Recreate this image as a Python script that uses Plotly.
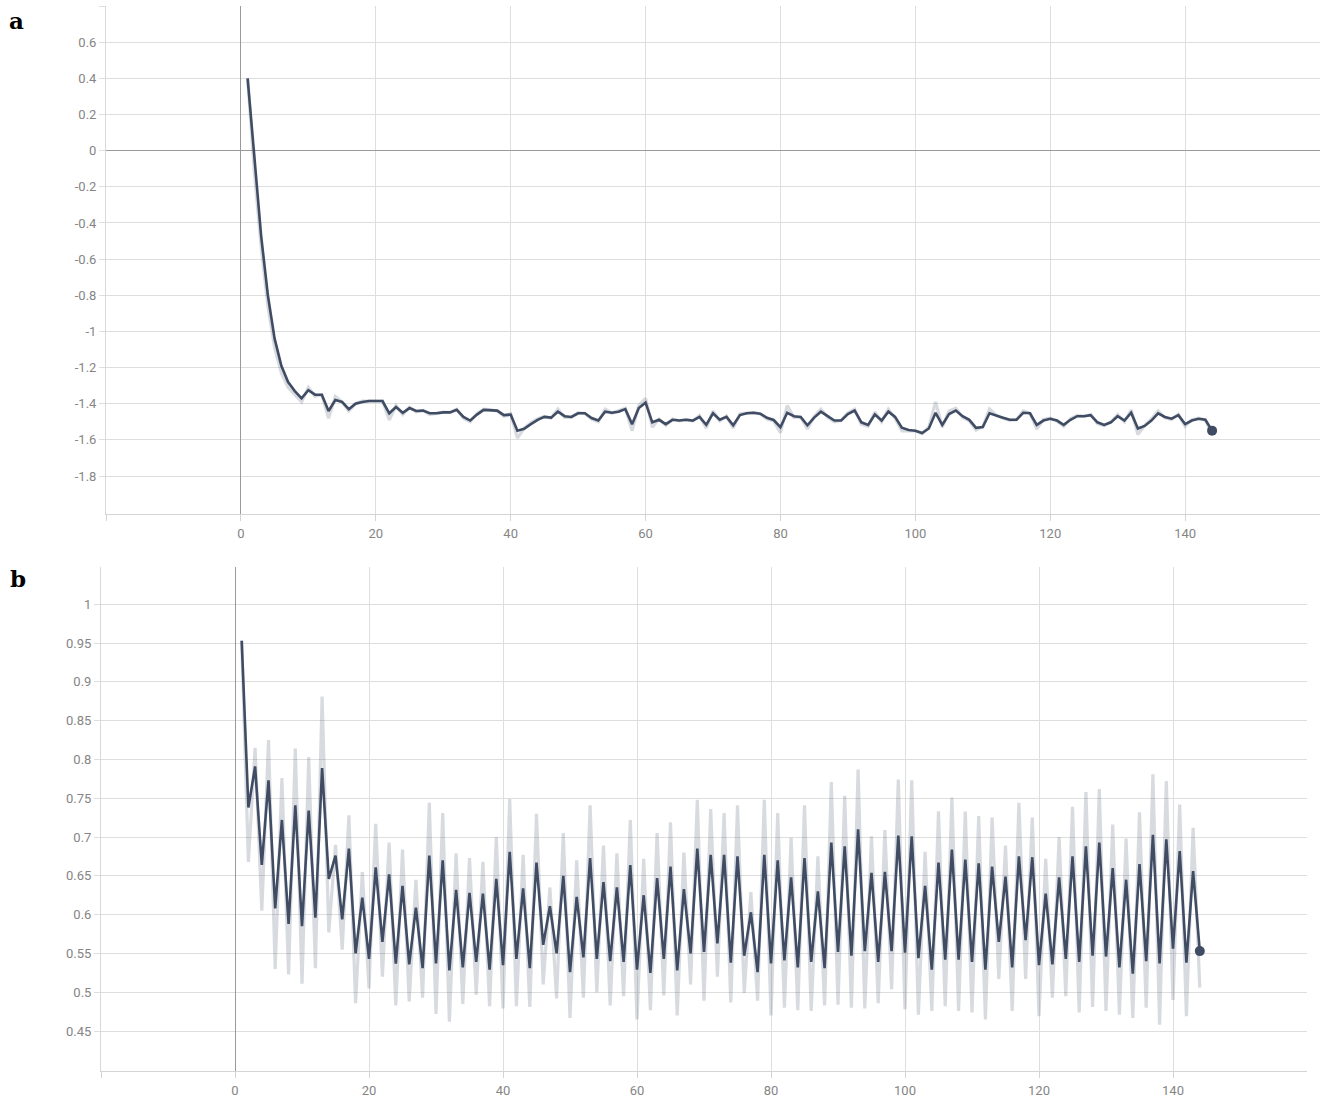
import plotly.graph_objects as go

# ---------------- data ----------------
steps = list(range(1, 145))

a_smoothed = [
    0.40, -0.06, -0.47, -0.80, -1.04, -1.19, -1.28, -1.33, -1.37, -1.325,
    -1.35, -1.35, -1.44, -1.38, -1.39, -1.43, -1.40, -1.39, -1.385, -1.385,
    -1.385, -1.453, -1.418, -1.45, -1.424, -1.44, -1.438, -1.453, -1.453, -1.448,
    -1.448, -1.434, -1.473, -1.493, -1.46, -1.434, -1.434, -1.438, -1.463, -1.46,
    -1.549, -1.539, -1.513, -1.489, -1.473, -1.477, -1.444, -1.469, -1.473, -1.453,
    -1.453, -1.479, -1.493, -1.444, -1.45, -1.444, -1.43, -1.513, -1.424, -1.394,
    -1.503, -1.489, -1.513, -1.489, -1.493, -1.489, -1.493, -1.473, -1.517, -1.453,
    -1.489, -1.473, -1.519, -1.463, -1.453, -1.45, -1.455, -1.478, -1.49, -1.53,
    -1.45, -1.469, -1.473, -1.519, -1.477, -1.444, -1.469, -1.493, -1.493, -1.457,
    -1.438, -1.503, -1.517, -1.46, -1.493, -1.444, -1.473, -1.533, -1.545, -1.549,
    -1.562, -1.537, -1.45, -1.517, -1.457, -1.438, -1.469, -1.489, -1.533, -1.529,
    -1.453, -1.463, -1.477, -1.489, -1.489, -1.45, -1.453, -1.517, -1.493, -1.483,
    -1.493, -1.517, -1.489, -1.469, -1.469, -1.463, -1.503, -1.517, -1.503, -1.469,
    -1.493, -1.45, -1.537, -1.523, -1.493, -1.453, -1.473, -1.483, -1.463, -1.513,
    -1.493, -1.483, -1.489, -1.549,
]

a_raw = [
    0.40, -0.12, -0.53, -0.86, -1.09, -1.23, -1.31, -1.35, -1.39, -1.31,
    -1.36, -1.35, -1.48, -1.36, -1.39, -1.44, -1.40, -1.385, -1.385, -1.385,
    -1.385, -1.49, -1.41, -1.46, -1.42, -1.445, -1.437, -1.46, -1.453, -1.447,
    -1.448, -1.43, -1.48, -1.50, -1.455, -1.43, -1.434, -1.44, -1.47, -1.455,
    -1.59, -1.535, -1.505, -1.483, -1.47, -1.48, -1.43, -1.475, -1.475, -1.45,
    -1.453, -1.485, -1.50, -1.43, -1.452, -1.44, -1.425, -1.55, -1.41, -1.37,
    -1.53, -1.485, -1.52, -1.485, -1.495, -1.488, -1.495, -1.465, -1.535, -1.44,
    -1.495, -1.468, -1.535, -1.455, -1.45, -1.449, -1.457, -1.485, -1.495, -1.56,
    -1.41, -1.475, -1.475, -1.54, -1.47, -1.43, -1.475, -1.50, -1.493, -1.45,
    -1.43, -1.515, -1.525, -1.445, -1.50, -1.43, -1.48, -1.55, -1.55, -1.55,
    -1.565, -1.53, -1.39, -1.53, -1.44, -1.425, -1.475, -1.495, -1.545, -1.527,
    -1.43, -1.465, -1.48, -1.492, -1.489, -1.44, -1.453, -1.54, -1.487, -1.48,
    -1.495, -1.525, -1.483, -1.465, -1.469, -1.46, -1.51, -1.522, -1.50, -1.46,
    -1.50, -1.435, -1.57, -1.52, -1.485, -1.44, -1.478, -1.487, -1.458, -1.525,
    -1.488, -1.48, -1.49, -1.57,
]

b_smoothed = [
    0.953, 0.738, 0.791, 0.664, 0.773, 0.608, 0.722, 0.588, 0.741, 0.585,
    0.734, 0.596, 0.789, 0.646, 0.676, 0.594, 0.685, 0.550, 0.622, 0.543,
    0.661, 0.565, 0.652, 0.537, 0.637, 0.536, 0.609, 0.531, 0.676, 0.537,
    0.670, 0.528, 0.632, 0.532, 0.628, 0.539, 0.627, 0.529, 0.646, 0.535,
    0.681, 0.543, 0.634, 0.531, 0.667, 0.561, 0.611, 0.550, 0.650, 0.526,
    0.623, 0.545, 0.673, 0.543, 0.642, 0.540, 0.635, 0.539, 0.664, 0.529,
    0.625, 0.525, 0.647, 0.543, 0.662, 0.528, 0.633, 0.550, 0.685, 0.552,
    0.677, 0.563, 0.677, 0.538, 0.675, 0.547, 0.603, 0.526, 0.677, 0.537,
    0.670, 0.541, 0.648, 0.532, 0.673, 0.539, 0.630, 0.531, 0.693, 0.552,
    0.688, 0.547, 0.710, 0.553, 0.654, 0.539, 0.655, 0.553, 0.702, 0.551,
    0.701, 0.544, 0.637, 0.529, 0.667, 0.542, 0.684, 0.542, 0.671, 0.539,
    0.666, 0.529, 0.662, 0.565, 0.649, 0.532, 0.675, 0.567, 0.674, 0.535,
    0.627, 0.536, 0.648, 0.543, 0.675, 0.539, 0.688, 0.547, 0.693, 0.546,
    0.660, 0.532, 0.645, 0.524, 0.665, 0.540, 0.703, 0.537, 0.697, 0.556,
    0.682, 0.538, 0.656, 0.553,
]

b_raw = [
    0.953, 0.668, 0.815, 0.605, 0.825, 0.530, 0.776, 0.523, 0.814, 0.511,
    0.803, 0.531, 0.881, 0.577, 0.690, 0.555, 0.728, 0.486, 0.655, 0.505,
    0.717, 0.520, 0.693, 0.483, 0.684, 0.488, 0.645, 0.493, 0.744, 0.472,
    0.731, 0.462, 0.679, 0.485, 0.673, 0.497, 0.668, 0.482, 0.700, 0.479,
    0.749, 0.482, 0.677, 0.481, 0.730, 0.510, 0.635, 0.492, 0.705, 0.467,
    0.670, 0.493, 0.741, 0.500, 0.689, 0.483, 0.679, 0.495, 0.722, 0.465,
    0.672, 0.477, 0.705, 0.496, 0.719, 0.470, 0.680, 0.510, 0.748, 0.489,
    0.736, 0.520, 0.731, 0.487, 0.741, 0.499, 0.629, 0.489, 0.748, 0.470,
    0.731, 0.480, 0.699, 0.477, 0.741, 0.476, 0.675, 0.483, 0.771, 0.484,
    0.753, 0.480, 0.787, 0.479, 0.701, 0.486, 0.709, 0.504, 0.774, 0.478,
    0.773, 0.471, 0.681, 0.476, 0.733, 0.482, 0.751, 0.476, 0.733, 0.474,
    0.727, 0.465, 0.725, 0.517, 0.689, 0.476, 0.744, 0.517, 0.725, 0.469,
    0.672, 0.493, 0.700, 0.495, 0.739, 0.474, 0.758, 0.481, 0.762, 0.476,
    0.716, 0.471, 0.698, 0.467, 0.732, 0.480, 0.781, 0.458, 0.772, 0.490,
    0.742, 0.469, 0.712, 0.506,
]

x_tick_vals = [-20, 0, 20, 40, 60, 80, 100, 120, 140]
x_tick_text = ["", "0", "20", "40", "60", "80", "100", "120", "140"]

a_tick_vals = [-1.8, -1.6, -1.4, -1.2, -1.0, -0.8, -0.6, -0.4, -0.2, 0, 0.2, 0.4, 0.6, 0.8]
a_tick_text = ["-1.8", "-1.6", "-1.4", "-1.2", "-1", "-0.8", "-0.6", "-0.4", "-0.2", "0",
               "0.2", "0.4", "0.6", ""]

b_tick_vals = [0.45, 0.5, 0.55, 0.6, 0.65, 0.7, 0.75, 0.8, 0.85, 0.9, 0.95, 1.0, 1.05]
b_tick_text = ["0.45", "0.5", "0.55", "0.6", "0.65", "0.7", "0.75", "0.8", "0.85", "0.9",
               "0.95", "1", ""]

panel_labels = ["a", "b"]

# ---------------- style ----------------
W, H = 1323, 1101
DARK = "#3f4c63"
LIGHT = "rgba(66,80,102,0.21)"
GRID = "#dedede"
ZERO = "#9a9a9a"
TICKFONT = dict(family="Roboto", size=13, color="#858585")


def px_x(p):
    return p / W


def px_y(p):
    return 1 - p / H


fig = go.Figure()

# panel a
fig.add_trace(go.Scatter(x=steps, y=a_raw, mode="lines", line=dict(color=LIGHT, width=3.2),
                         xaxis="x", yaxis="y", hoverinfo="skip", showlegend=False))
fig.add_trace(go.Scatter(x=steps, y=a_smoothed, mode="lines", line=dict(color=DARK, width=2.6),
                         xaxis="x", yaxis="y", showlegend=False))
fig.add_trace(go.Scatter(x=[steps[-1]], y=[a_smoothed[-1]], mode="markers",
                         marker=dict(color=DARK, size=10), xaxis="x", yaxis="y", showlegend=False))

# panel b
fig.add_trace(go.Scatter(x=steps, y=b_raw, mode="lines", line=dict(color=LIGHT, width=3.2),
                         xaxis="x2", yaxis="y2", hoverinfo="skip", showlegend=False))
fig.add_trace(go.Scatter(x=steps, y=b_smoothed, mode="lines", line=dict(color=DARK, width=2.6),
                         xaxis="x2", yaxis="y2", showlegend=False))
fig.add_trace(go.Scatter(x=[steps[-1]], y=[b_smoothed[-1]], mode="markers",
                         marker=dict(color=DARK, size=10), xaxis="x2", yaxis="y2", showlegend=False))

xcommon = dict(
    range=[-20, 160], tickmode="array", tickvals=x_tick_vals, ticktext=x_tick_text,
    showgrid=True, gridcolor=GRID, gridwidth=1,
    zeroline=True, zerolinecolor=ZERO, zerolinewidth=1.2,
    showline=True, linecolor="#d4d4d4", linewidth=1,
    ticks="outside", ticklen=6, tickcolor="#d4d4d4", tickfont=TICKFONT,
    ticklabelstandoff=1,
)
ycommon = dict(
    tickmode="array", showgrid=True, gridcolor=GRID, gridwidth=1,
    zeroline=True, zerolinecolor=ZERO, zerolinewidth=1.2,
    showline=True, linecolor="#d8d8d8", linewidth=1,
    ticks="outside", ticklen=6, tickcolor=GRID, tickfont=TICKFONT,
)

fig.update_layout(
    width=W, height=H,
    margin=dict(l=0, r=0, t=0, b=0),
    paper_bgcolor="white", plot_bgcolor="white",
    xaxis=dict(domain=[px_x(106), px_x(1320)], anchor="y", **xcommon),
    yaxis=dict(domain=[px_y(514), px_y(6)], anchor="x", range=[-2.01, 0.8],
               tickvals=a_tick_vals, ticktext=a_tick_text, **ycommon),
    xaxis2=dict(domain=[px_x(101), px_x(1307)], anchor="y2", **xcommon),
    yaxis2=dict(domain=[px_y(1071), px_y(567)], anchor="x2", range=[0.3985, 1.048],
                tickvals=b_tick_vals, ticktext=b_tick_text, **ycommon),
    annotations=[
        dict(text="<b>%s</b>" % panel_labels[0], xref="paper", yref="paper",
             x=px_x(16), y=px_y(21), xanchor="center", yanchor="middle", showarrow=False,
             font=dict(family="DejaVu Serif", size=23, color="black")),
        dict(text="<b>%s</b>" % panel_labels[1], xref="paper", yref="paper",
             x=px_x(18), y=px_y(578), xanchor="center", yanchor="middle", showarrow=False,
             font=dict(family="DejaVu Serif", size=23, color="black")),
    ],
)

fig.write_html("out.html")
